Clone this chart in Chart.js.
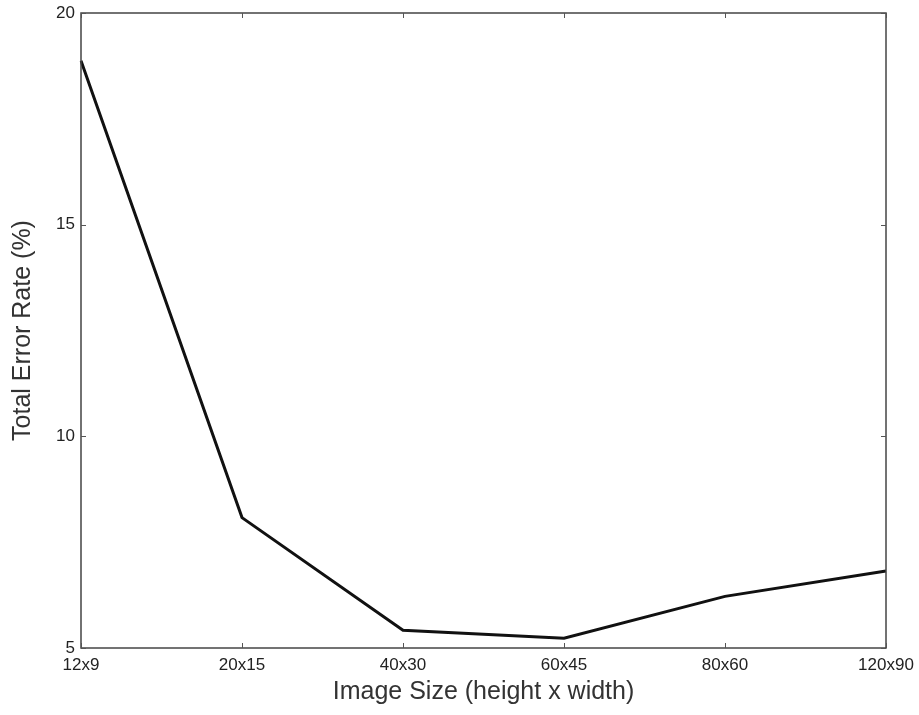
<!DOCTYPE html>
<html>
<head>
<meta charset="utf-8">
<script src="https://cdn.jsdelivr.net/npm/chart.js@4"></script>
<style>
html,body{margin:0;padding:0;background:#fff;}
#wrap{width:919px;height:715px;}
</style>
</head>
<body>
<div id="wrap"><canvas id="c" width="919" height="715"></canvas></div>
<script>
const categories = ["12x9","20x15","40x30","60x45","80x60","120x90"];
const errorRate = [18.87, 8.08, 5.42, 5.23, 6.22, 6.82];
const yTicks = [5, 10, 15, 20];

const framePlugin = {
  id: 'frame',
  afterDraw(chart) {
    const {ctx, chartArea: a, scales} = chart;
    ctx.save();
    ctx.strokeStyle = '#444';
    ctx.lineWidth = 1.5;
    ctx.strokeRect(a.left, a.top, a.right - a.left, a.bottom - a.top);
    ctx.lineWidth = 1;
    ctx.strokeStyle = '#555';
    const L = 5;
    ctx.beginPath();
    categories.forEach((c, i) => {
      const x = Math.round(scales.x.getPixelForValue(i)) + 0.5;
      ctx.moveTo(x, a.bottom); ctx.lineTo(x, a.bottom - L);
      ctx.moveTo(x, a.top); ctx.lineTo(x, a.top + L);
    });
    yTicks.forEach(v => {
      const y = Math.round(scales.y.getPixelForValue(v)) + 0.5;
      ctx.moveTo(a.left, y); ctx.lineTo(a.left + L, y);
      ctx.moveTo(a.right, y); ctx.lineTo(a.right - L, y);
    });
    ctx.stroke();
    ctx.restore();
  }
};

const FONT = '"Liberation Sans", Arial, sans-serif';

new Chart(document.getElementById('c'), {
  type: 'line',
  data: {
    labels: categories,
    datasets: [{
      data: errorRate,
      borderColor: '#111',
      borderWidth: 3,
      pointRadius: 0,
      tension: 0,
      fill: false
    }]
  },
  options: {
    responsive: false,
    animation: false,
    devicePixelRatio: 1,
    layout: {padding: {left: 8, right: 33, top: 13, bottom: 8}},
    plugins: {legend: {display: false}, tooltip: {enabled: false}},
    scales: {
      x: {
        type: 'category',
        offset: false,
        grid: {display: false, drawTicks: false},
        border: {display: false},
        ticks: {
          color: '#222', padding: 7, maxRotation: 0, autoSkip: false,
          font: {family: FONT, size: 17}
        },
        title: {
          display: true, text: 'Image Size (height x width)', color: '#333',
          font: {family: FONT, size: 25},
          padding: {top: 0, bottom: 0}
        },
        afterFit(s) { s.height = 59; s.paddingLeft = 0; s.paddingRight = 0; }
      },
      y: {
        min: 5, max: 20,
        grid: {display: false, drawTicks: false},
        border: {display: false},
        afterBuildTicks(s) { s.ticks = yTicks.map(v => ({value: v})); },
        ticks: {
          color: '#222', padding: 6,
          font: {family: FONT, size: 17}
        },
        title: {
          display: true, text: 'Total Error Rate (%)', color: '#333',
          font: {family: FONT, size: 25},
          padding: {top: 0, bottom: 0}
        },
        afterFit(s) { s.width = 73; s.paddingTop = 0; s.paddingBottom = 0; }
      }
    }
  },
  plugins: [framePlugin]
});
</script>
</body>
</html>
